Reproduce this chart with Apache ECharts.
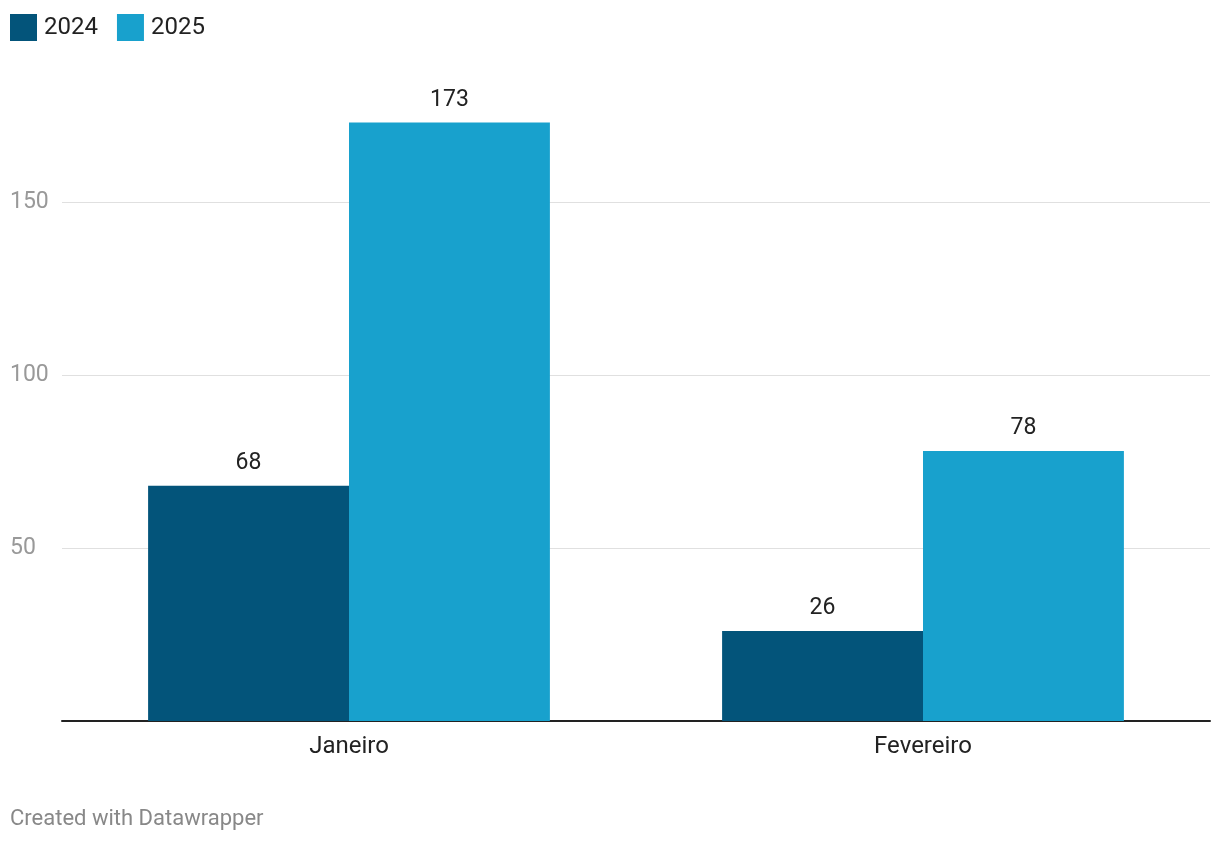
<!DOCTYPE html>
<html>
<head>
<meta charset="utf-8">
<script src="https://cdn.jsdelivr.net/npm/echarts@6/dist/echarts.min.js"></script>
<style>
html,body{margin:0;padding:0;background:#fff;}
#chart{width:1220px;height:844px;}
</style>
</head>
<body>
<div id="chart"></div>
<script>
const categories = ['Janeiro', 'Fevereiro'];
const series2024 = [68, 26];
const series2025 = [173, 78];
const seriesNames = ['2024', '2025'];
const yTicks = [0, 50, 100, 150, 200];

const chart = echarts.init(document.getElementById('chart'));
const labelStyle = {
  show: true, position: 'top', distance: 11,
  fontFamily: 'Roboto', fontSize: 23, color: '#222'
};
chart.setOption({
  animation: false,
  textStyle: { fontFamily: 'Roboto' },
  legend: {
    left: 10, top: 14, padding: 0,
    itemWidth: 27, itemHeight: 27, itemGap: 19,
    icon: 'rect',
    textStyle: { fontFamily: 'Roboto', fontSize: 24, color: '#222', padding: [0, 0, 0, 2] },
    data: seriesNames
  },
  graphic: [{
    type: 'text', left: 10, top: 808,
    style: { text: 'Created with Datawrapper', fontFamily: 'Roboto', fontSize: 22, fill: '#888' }
  }],
  grid: { left: 62, right: 10, top: 29, bottom: 123, containLabel: false },
  xAxis: {
    type: 'category', data: categories,
    axisLine: { show: true, lineStyle: { color: '#222', width: 2 } },
    axisTick: { show: false },
    axisLabel: { margin: 14, fontFamily: 'Roboto', fontSize: 24, color: '#222' }
  },
  yAxis: {
    type: 'value', min: yTicks[0], max: yTicks[yTicks.length - 1], interval: 50,
    axisLine: { show: false }, axisTick: { show: false },
    axisLabel: {
      showMinLabel: false, showMaxLabel: false,
      align: 'left', margin: 52, verticalAlign: 'middle', padding: [2, 0, 0, 0],
      fontFamily: 'Roboto', fontSize: 23, color: '#999'
    },
    splitLine: { show: true, showMinLine: false, showMaxLine: false, lineStyle: { color: '#e0e0e0', width: 1 } }
  },
  series: [
    { name: seriesNames[0], type: 'bar', data: series2024, barGap: '0%', barCategoryGap: '30%',
      itemStyle: { color: '#03547a' }, label: labelStyle },
    { name: seriesNames[1], type: 'bar', data: series2025, barGap: '0%', barCategoryGap: '30%',
      itemStyle: { color: '#18a1cd' }, label: labelStyle }
  ]
});
</script>
</body>
</html>
